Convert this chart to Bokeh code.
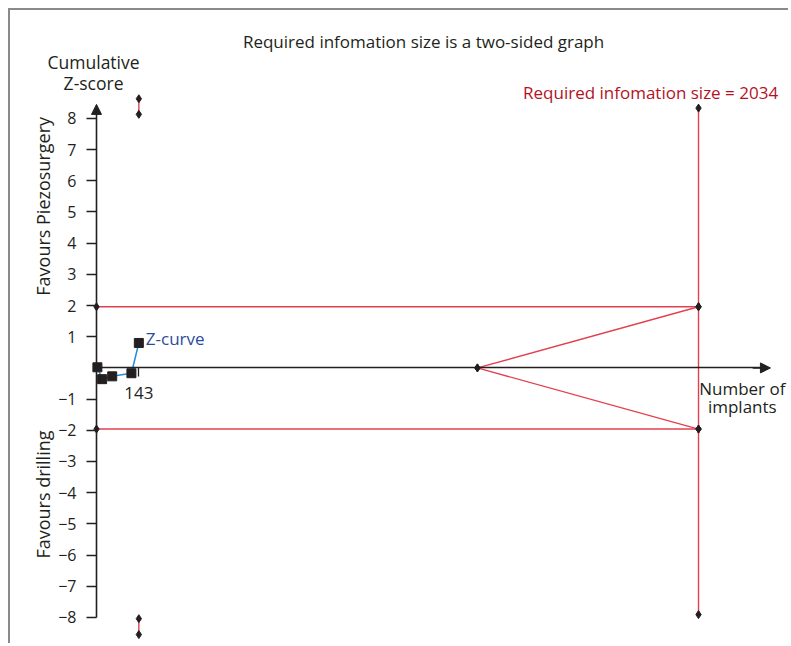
from bokeh.plotting import figure
from bokeh.models import Range1d, FixedTicker, Label, Arrow, NormalHead, ColumnDataSource
from bokeh.embed import file_html
from bokeh.resources import INLINE

# ---------------- data ----------------
zcurve_implants = [3, 19, 53, 118, 143]
zcurve_z = [0.02, -0.36, -0.27, -0.17, 0.80]

required_info_size = 2034
conventional_z = 1.96
futility_start = 1287
ris_line_z = [8.33, -7.91]

early_look_x = 143
early_upper_z = [8.63, 8.13]
early_lower_z = [-8.04, -8.55]

y_tick_values = [-8, -7, -6, -5, -4, -3, -2, -1, 1, 2, 3, 4, 5, 6, 7, 8]
y_tick_labels = ["\u22128", "\u22127", "\u22126", "\u22125", "\u22124", "\u22123", "\u22122", "\u22121",
                 "1", "2", "3", "4", "5", "6", "7", "8"]
x_tick_values = [143]
x_tick_labels = ["143"]

title_text = "Required infomation size is a two-sided graph"
ris_text = "Required infomation size = 2034"
y_title_lines = ["Cumulative", "Z-score"]
x_title_lines = ["Number of", "implants"]
upper_side = "Favours Piezosurgery"
lower_side = "Favours drilling"
curve_name = "Z-curve"

# ---------------- styles ----------------
FONT = "Open Sans"
INK = "#231f20"
RED = "#e3404f"
DARK_RED = "#b3121f"
BLUE_LINE = "#1f8fd6"
BLUE_TEXT = "#2b4c9c"

p = figure(width=780, height=635,
           x_range=Range1d(-290.6, 2344.8), y_range=Range1d(-8.9, 11.46),
           toolbar_location=None, output_backend="svg",
           min_border_left=0, min_border_right=0, min_border_top=0, min_border_bottom=0)
p.outline_line_color = None
p.grid.visible = False
p.background_fill_color = "white"
p.border_fill_color = "white"
p.styles = {"margin-left": "8px", "margin-top": "8px",
            "border-top": "2px solid #8a8a8a", "border-left": "2px solid #8a8a8a"}

# y axis (cumulative Z) through x = 0
ay = p.yaxis[0]
ay.fixed_location = 0
ay.ticker = FixedTicker(ticks=y_tick_values)
ay.major_label_overrides = {v: s for v, s in zip(y_tick_values, y_tick_labels)}
ay.bounds = (-8, 8.3)
ay.axis_line_color = INK
ay.axis_line_width = 1.6
ay.major_tick_line_color = INK
ay.major_tick_line_width = 1.3
ay.major_tick_out = 10
ay.major_tick_in = 0
ay.minor_tick_line_color = None
ay.major_label_standoff = 10
ay.major_label_text_font = FONT
ay.major_label_text_font_size = "16px"
ay.major_label_text_color = INK

# x axis (number of implants) through z = 0
x_axis_end = 2277
ax = p.xaxis[0]
ax.fixed_location = 0
ax.ticker = FixedTicker(ticks=x_tick_values)
ax.major_label_overrides = {v: s for v, s in zip(x_tick_values, x_tick_labels)}
ax.bounds = (0, x_axis_end - 20)
ax.axis_line_color = INK
ax.axis_line_width = 1.6
ax.major_tick_line_color = INK
ax.major_tick_line_width = 1.3
ax.major_tick_out = 9
ax.major_tick_in = 0
ax.minor_tick_line_color = None
ax.major_label_standoff = 10
ax.major_label_text_font = FONT
ax.major_label_text_font_size = "17px"
ax.major_label_text_color = INK

# arrow heads
p.add_layout(Arrow(end=NormalHead(size=10, fill_color=INK, line_color=INK),
                   x_start=0, y_start=8.2, x_end=0, y_end=8.45,
                   line_color=INK, line_width=1.6))
p.add_layout(Arrow(end=NormalHead(size=10, fill_color=INK, line_color=INK),
                   x_start=x_axis_end - 60, y_start=0, x_end=x_axis_end, y_end=0,
                   line_color=INK, line_width=1.6))

# boundaries (red)
seg = ColumnDataSource(dict(
    x0=[0, 0, futility_start, futility_start, required_info_size, early_look_x, early_look_x],
    y0=[conventional_z, -conventional_z, 0, 0, ris_line_z[0], early_upper_z[0], early_lower_z[0]],
    x1=[required_info_size, required_info_size, required_info_size, required_info_size,
        required_info_size, early_look_x, early_look_x],
    y1=[conventional_z, -conventional_z, conventional_z, -conventional_z, ris_line_z[1],
        early_upper_z[1], early_lower_z[1]],
))
p.segment(x0="x0", y0="y0", x1="x1", y1="y1", source=seg, line_color=RED, line_width=1.4)
p.scatter(x=seg.data["x0"] + seg.data["x1"], y=seg.data["y0"] + seg.data["y1"],
          marker="diamond", size=8, fill_color=INK, line_color=INK)

# Z-curve
p.line(zcurve_implants, zcurve_z, line_color=BLUE_LINE, line_width=1.5)
p.scatter(zcurve_implants, zcurve_z, marker="square", size=9, fill_color=INK, line_color=INK)
p.add_layout(Label(x=zcurve_implants[-1], y=zcurve_z[-1], x_offset=7, y_offset=4, text=curve_name,
                   text_align="left", text_baseline="alphabetic",
                   text_font=FONT, text_font_size="17px", text_color=BLUE_TEXT))


def txt(x, y, s, size="18px", color=INK, align="center", angle=0):
    p.add_layout(Label(x=x, y=y, text=s, text_align=align, text_baseline="alphabetic",
                       angle=angle, angle_units="deg",
                       text_font=FONT, text_font_size=size, text_color=color))


txt(1105, 10.48, title_text, size="17px")
txt(1872, 8.83, ris_text, size="17px", color=DARK_RED)
txt(-10, 9.80, y_title_lines[0], size="17.5px")
txt(-10, 9.13, y_title_lines[1], size="17.5px")
txt(2182, -0.66, x_title_lines[0], size="17px")
txt(2182, -1.25, x_title_lines[1], size="17px")
txt(-182, 5.18, upper_side, angle=90)
txt(-182, -4.06, lower_side, angle=90)

open("out.html", "w").write(file_html(p, INLINE))
